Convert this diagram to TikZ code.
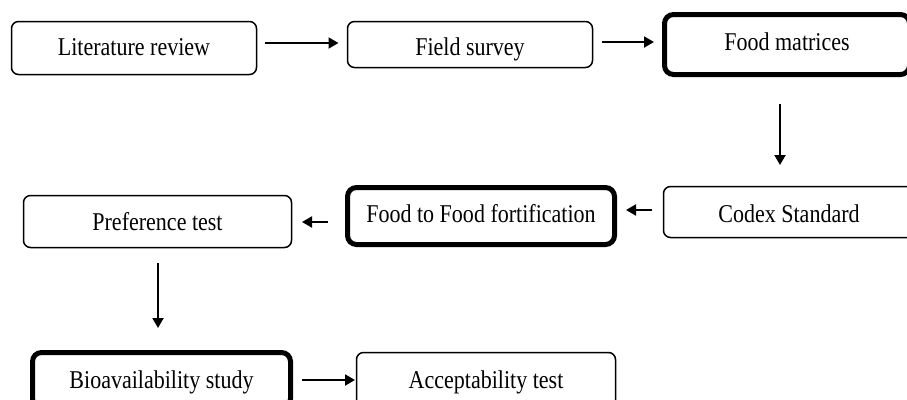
\documentclass[tikz,border=0pt]{standalone}
\usepackage{fontspec}
\setmainfont[FakeStretch=0.86]{Liberation Serif}
\usetikzlibrary{calc,arrows.meta}
\begin{document}
\begin{tikzpicture}[x=1pt,y=-1pt,
  box/.style={draw=black, line width=1.5pt, rounded corners=7pt, inner sep=0pt, outer sep=0pt,
    font=\fontsize{25.6}{28}\selectfont, anchor=center, text height=17pt, text depth=0pt},
  thickbox/.style={box, line width=5pt, rounded corners=9pt},
  arr/.style={line width=2pt, -{Triangle[length=10pt,width=11pt]}}]
\useasboundingbox (0,0) rectangle (907,399);
\clip (0,0) rectangle (907,399);
\node[box, minimum width=245pt, minimum height=53pt, text depth=3pt] (lit) at (134,48) {Literature review};
\node[box, minimum width=245pt, minimum height=46pt, text height=21pt] (field) at (470,44.5) {Field survey};
\node[thickbox, minimum width=245pt, minimum height=60pt, text depth=6pt] (fm) at (787,44.5) {Food matrices};
\node[box, minimum width=251pt, minimum height=51pt, text height=20pt] (codex) at (789,212) {Codex Standard};
\node[thickbox, minimum width=267pt, minimum height=57pt, text depth=5pt] (ff) at (481,216) {Food to Food fortification};
\node[box, minimum width=268pt, minimum height=52pt] (pref) at (157.5,221.5) {Preference test};
\node[thickbox, minimum width=258pt, minimum height=55pt, text depth=1pt] (bio) at (161.5,380) {Bioavailability study};
\node[box, minimum width=259pt, minimum height=55pt, text depth=1pt] (acc) at (486,380) {Acceptability test};
\draw[arr] ($(lit.east)+(8,-5)$) -- ($(field.west)+(-9,-1.5)$);
\draw[arr] ($(field.east)+(9.5,-2.5)$) -- ($(fm.west)+(-10.5,-2.5)$);
\draw[arr] ($(fm.south)+(-7,29.5)$) -- ($(codex.north)+(-9,-21.5)$);
\draw[arr] ($(codex.west)+(-11.5,-2)$) -- ($(ff.east)+(11.5,-6)$);
\draw[arr] ($(ff.west)+(-19.5,6)$) -- ($(pref.east)+(10.5,0.5)$);
\draw[arr] ($(pref.south)+(0.5,15.5)$) -- ($(bio.north)+(-3.5,-24.5)$);
\draw[arr] ($(bio.east)+(11.5,0)$) -- ($(acc.west)+(-1.5,0)$);
\end{tikzpicture}
\end{document}
